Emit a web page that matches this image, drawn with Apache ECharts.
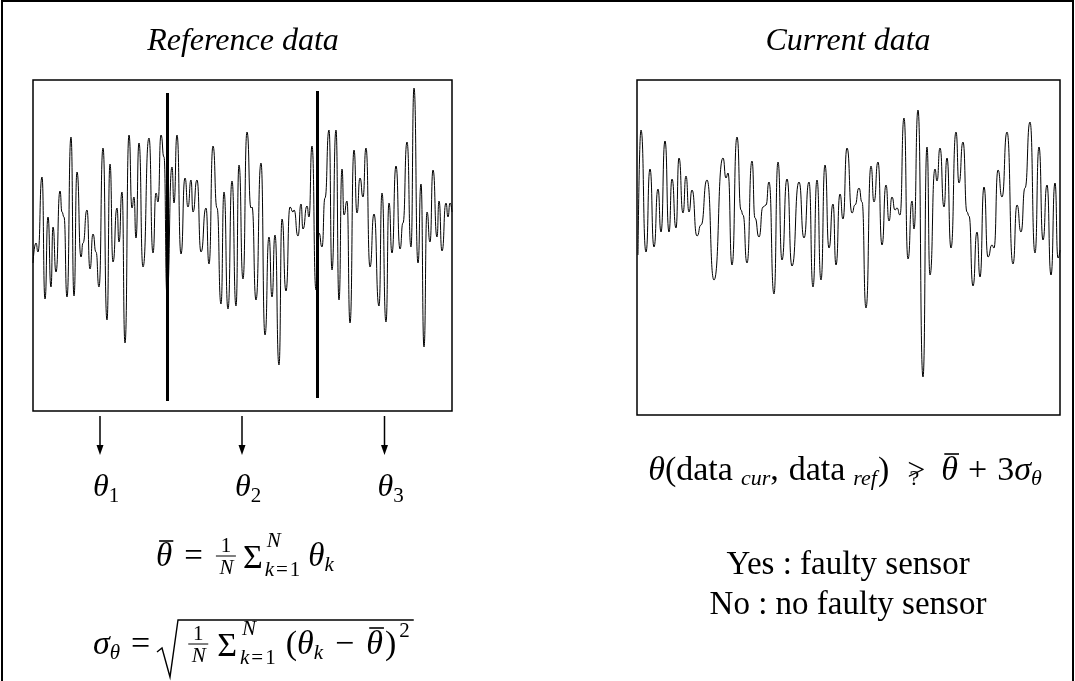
<!DOCTYPE html>
<html>
<head>
<meta charset="utf-8">
<script src="https://cdn.jsdelivr.net/npm/echarts@6/dist/echarts.min.js"></script>
<style>
  html, body { margin: 0; padding: 0; background: #fff; }
  #chart { width: 1075px; height: 681px; }
</style>
</head>
<body>
<div id="chart"></div>
<script>
// reference signal (left panel): sample position and amplitude
const refT = [0,3,5,9,12,15,18,20,23,27,29,31,34,38,41,44,48,50,54,57,60,63,66,70,74,77,80,84,86,89,92,96,99,101,103,106,110,116,120,123,125,128,131,134,139,141,144,148,152,155,158,160,164,168,173,176,180,184,188,191,195,199,203,206,210,214,218,219,223,228,232,236,239,242,246,249,253,257,260,261,265,268,270,274,276,279,283,286,289,292,296,299,303,306,309,311,314,317,321,324,327,330,333,337,341,346,349,353,356,359,363,367,370,374,378,381,385,388,391,394,397,400,404,406,409,413,415,417,419];
const refA = [-13,7,-2,73,-49,33,-37,23,-22,59,38,33,-47,113,-46,78,-7,7,40,-19,16,-2,-37,102,-70,86,-12,42,8,58,-93,115,42,53,12,107,-17,112,-3,57,48,115,93,-45,83,47,115,-4,72,43,70,38,70,-2,42,-14,104,42,-54,58,-59,69,-56,85,-29,118,42,43,-50,87,-85,13,-47,15,-115,31,-41,43,38,40,14,46,21,44,33,104,-40,17,3,52,120,-20,120,-50,81,35,49,-73,100,37,72,53,102,-17,36,-56,57,-72,47,-3,84,1,27,108,3,162,-13,66,-97,38,8,80,13,49,-1,47,33,47,38];

// current signal (right panel)
const curT = [1,4,9,13,17,21,24,28,32,35,39,42,46,49,52,55,60,64,70,77,86,89,91,95,100,104,106,110,115,118,122,126,129,132,137,141,145,150,155,162,167,172,176,180,184,188,192,196,199,203,206,210,215,218,222,225,229,234,237,241,245,249,252,255,258,260,263,267,271,275,277,281,286,290,293,298,300,303,307,310,314,319,322,326,330,332,336,340,343,347,351,355,357,361,365,370,376,380,384,388,393,398,402,406,410,414,418,421,423];
const curA = [-5,120,-2,81,3,61,18,109,18,71,22,92,37,74,38,60,14,25,70,-30,92,72,77,-15,113,40,35,-13,89,32,13,43,45,68,-44,88,-10,71,-16,68,12,68,-37,70,-30,85,2,46,-15,56,31,102,37,45,62,48,-58,84,48,88,5,65,29,53,40,42,35,132,-9,49,21,140,-127,103,-25,81,69,102,43,92,2,118,67,108,38,34,-36,18,-27,63,-7,5,2,80,53,118,-14,45,18,62,128,-3,103,10,65,-25,67,-8,0];

// window cuts in the reference data
const cutT = [134, 284];
const cutTop = [157, 159];
const cutBottom = [-151, -148];
const segEdges = [0, 134, 284, 419];
const thetaIdx = ['1', '2', '3'];

const titles = ['Reference data', 'Current data'];
const verdicts = ['Yes : faulty sensor', 'No : no faulty sensor'];

const serif = '"Liberation Serif", "DejaVu Serif", serif';

function pairs(t, a) {
  return t.map((v, i) => [v, a[i]]);
}

let chart = echarts.init(document.getElementById('chart'));

let hiddenAxis = { type: 'value', show: false, splitLine: { show: false } };

chart.setOption({
  animation: false,
  backgroundColor: '#fff',
  grid: [
    { left: 33, top: 80, width: 419, height: 331, show: true, borderColor: '#000', borderWidth: 1.5 },
    { left: 637, top: 80, width: 423, height: 335, show: true, borderColor: '#000', borderWidth: 1.5 }
  ],
  xAxis: [
    Object.assign({}, hiddenAxis, { gridIndex: 0, min: 0, max: 419 }),
    Object.assign({}, hiddenAxis, { gridIndex: 1, min: 0, max: 423 })
  ],
  yAxis: [
    Object.assign({}, hiddenAxis, { gridIndex: 0, min: -161, max: 170 }),
    Object.assign({}, hiddenAxis, { gridIndex: 1, min: -165, max: 170 })
  ],
  series: [
    {
      type: 'line',
      xAxisIndex: 0,
      yAxisIndex: 0,
      data: pairs(refT, refA),
      showSymbol: false,
      smooth: 0.6,
      smoothMonotone: 'x',
      lineStyle: { color: '#000', width: 1 },
      markLine: {
        silent: true,
        symbol: ['none', 'none'],
        label: { show: false },
        lineStyle: { color: '#000', width: 3, type: 'solid' },
        data: cutT.map((t, i) => [{ coord: [t, cutTop[i]] }, { coord: [t, cutBottom[i]] }])
      }
    },
    {
      type: 'line',
      xAxisIndex: 1,
      yAxisIndex: 1,
      data: pairs(curT, curA),
      showSymbol: false,
      smooth: 0.6,
      smoothMonotone: 'x',
      lineStyle: { color: '#000', width: 1 }
    }
  ]
});

// ---- text helpers ----
let measureCtx = document.createElement('canvas').getContext('2d');
function fontOf(size, italic) { return (italic ? 'italic ' : '') + size + 'px ' + serif; }
function textWidth(str, font) { measureCtx.font = font; return measureCtx.measureText(str).width; }

function put(x, y, text, size, italic, align) {
  align = align || 'center';
  return {
    type: 'text', x: x, y: y, silent: true,
    style: {
      text: text, font: fontOf(size, italic), fill: '#000',
      align: align, verticalAlign: 'middle', textAlign: align, textVerticalAlign: 'middle'
    }
  };
}
function rule(x1, y1, x2, y2, w) {
  return { type: 'line', silent: true, shape: { x1: x1, y1: y1, x2: x2, y2: y2 }, style: { stroke: '#000', lineWidth: w || 1.2 } };
}

// lay pieces of a formula side by side; a piece is {t, sz, it, dy, pre, bar} or {w, draw}
function seq(x0, y, parts, align) {
  let total = 0;
  parts.forEach(p => {
    if (p.t !== undefined) p.w = textWidth(p.t, fontOf(p.sz, p.it));
    total += (p.pre || 0) + p.w;
  });
  let cx = align === 'center' ? x0 - total / 2 : x0;
  let out = [];
  parts.forEach(p => {
    cx += p.pre || 0;
    p.x = cx;
    if (p.draw) out = out.concat(p.draw(cx, y));
    else out.push(put(cx, y + (p.dy || 0), p.t, p.sz, p.it, 'left'));
    if (p.bar) out.push(rule(cx + 3, y + p.bar, cx + p.w + 1, y + p.bar, 1.6));
    cx += p.w;
  });
  return { els: out, end: cx };
}
function frac(pre) {
  return {
    pre: pre, w: 20, draw: (x, y) => [
      put(x + 10, y - 11, '1', 21, false),
      rule(x, y - 1, x + 20, y - 1, 1),
      put(x + 10.5, y + 11, 'N', 21, true)
    ]
  };
}
function limits(pre) {
  let kw = textWidth('k', fontOf(21, true));
  let ew = textWidth('=', fontOf(21, false));
  let ow = textWidth('1', fontOf(21, false));
  return {
    pre: pre, w: kw + ew + ow + 4, draw: (x, y) => [
      put(x + 2, y - 16, 'N', 21, true, 'left'),
      put(x, y + 13, 'k', 21, true, 'left'),
      put(x + kw + 2, y + 13, '=', 21, false, 'left'),
      put(x + kw + ew + 4, y + 13, '1', 21, false, 'left')
    ]
  };
}

let g = [];
// outer frame
g.push({ type: 'rect', silent: true, shape: { x: 2, y: 1, width: 1071, height: 700 }, style: { fill: 'none', stroke: '#000', lineWidth: 2 } });

// panel titles
g.push(put(243, 42, titles[0], 32, true));
g.push(put(848, 42, titles[1], 32, true));

// arrows + theta_k under each window
for (let i = 0; i < thetaIdx.length; i++) {
  let mid = (segEdges[i] + segEdges[i + 1]) / 2;
  let px = chart.convertToPixel({ gridIndex: 0 }, [mid, 0])[0];
  g.push(rule(px, 416, px, 447, 1.5));
  g.push({ type: 'polygon', silent: true, shape: { points: [[px - 3.5, 445], [px + 3.5, 445], [px, 455]] }, style: { fill: '#000' } });
  g = g.concat(seq(px - 7, 488, [
    { t: 'θ', sz: 32, it: true },
    { t: thetaIdx[i], sz: 21, dy: 8 }
  ]).els);
}

// theta bar = 1/N sum theta_k
g = g.concat(seq(245, 557, [
  { t: 'θ', sz: 33, it: true, bar: -16 },
  { t: '=', sz: 33, pre: 12 },
  frac(13),
  { t: 'Σ', sz: 34, pre: 7, dy: 2 },
  limits(2),
  { t: 'θ', sz: 33, it: true, pre: 8 },
  { t: 'k', sz: 21, it: true, dy: 8 }
], 'center').els);

// sigma_theta = sqrt(1/N sum (theta_k - theta bar)^2)
let sq = seq(93, 645, [
  { t: 'σ', sz: 34, it: true },
  { t: 'θ', sz: 21, it: true, dy: 8 },
  { t: '=', sz: 34, pre: 11 },
  { pre: 6, w: 21, draw: () => [] },
  frac(11),
  { t: 'Σ', sz: 34, pre: 9, dy: 2 },
  limits(3),
  { t: '(', sz: 34, pre: 10 },
  { t: 'θ', sz: 34, it: true },
  { t: 'k', sz: 21, it: true, dy: 8 },
  { t: '−', sz: 34, pre: 12 },
  { t: 'θ', sz: 34, it: true, bar: -17, pre: 12 },
  { t: ')', sz: 34, pre: 2 },
  { t: '2', sz: 21, dy: -14, pre: 3 }
]);
g = g.concat(sq.els);
let rx = 157;
g.push({ type: 'polyline', silent: true, shape: { points: [[rx, 652], [rx + 5, 648], [rx + 13, 677], [rx + 21, 620], [sq.end + 4, 620]] }, style: { fill: 'none', stroke: '#000', lineWidth: 1.4 } });

// decision rule on the right
g = g.concat(seq(845, 471, [
  { t: 'θ', sz: 34, it: true },
  { t: '(data', sz: 34 },
  { t: 'cur', sz: 22, it: true, dy: 8, pre: 8 },
  { t: ',', sz: 34 },
  { t: 'data', sz: 34, pre: 10 },
  { t: 'ref', sz: 22, it: true, dy: 8, pre: 8 },
  { t: ')', sz: 34, pre: 1 },
  { pre: 15, w: 22, draw: (x, y) => [put(x + 12, y + 1, '>', 32, false), put(x + 10, y + 8, '?', 22, false)] },
  { t: 'θ', sz: 34, it: true, pre: 15, bar: -17 },
  { t: '+', sz: 34, pre: 10 },
  { t: '3', sz: 34, pre: 10 },
  { t: 'σ', sz: 34, it: true },
  { t: 'θ', sz: 22, it: true, dy: 8 }
], 'center').els);

g.push(put(848, 565, verdicts[0], 33, false));
g.push(put(848, 605, verdicts[1], 33, false));

chart.setOption({ graphic: { elements: g } });
</script>
</body>
</html>
